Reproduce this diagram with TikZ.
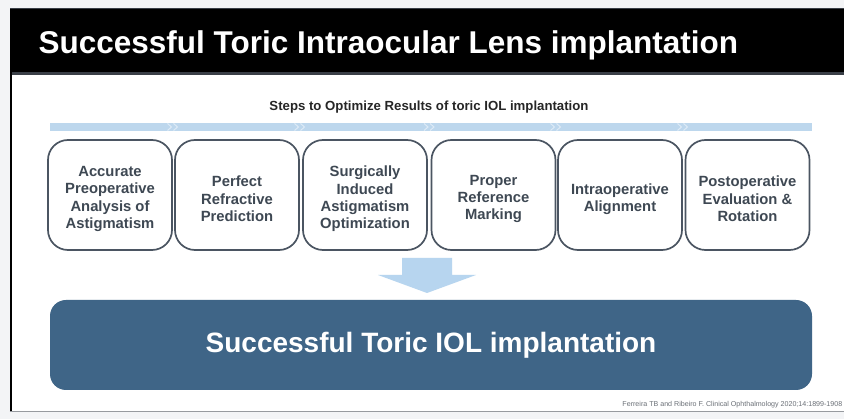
\documentclass[tikz,border=0pt]{standalone}
\usepackage{fontspec}
\setmainfont{Liberation Sans}
\usetikzlibrary{calc}
\definecolor{pagebg}{HTML}{F3F4F6}
\definecolor{stripe}{HTML}{3A3F47}
\definecolor{barblue}{HTML}{BDD7ED}
\definecolor{chevron}{HTML}{DDEAF6}
\definecolor{boxline}{HTML}{4B5562}
\definecolor{boxtext}{HTML}{3E4853}
\definecolor{arrowblue}{HTML}{B7D5EF}
\definecolor{resultblue}{HTML}{3F6587}
\definecolor{citegrey}{HTML}{6A6F76}
\tikzset{
  stepbox/.style={draw=boxline, line width=1.7pt, rounded corners=20pt,
    minimum width=124pt, minimum height=110pt, inner sep=0pt},
  steptext/.style={align=center, text=boxtext, inner sep=0pt,
    font=\bfseries\fontsize{14.8}{17.3}\selectfont},
  resultbox/.style={fill=resultblue, rounded corners=16pt,
    minimum width=762pt, minimum height=90pt,
    text=white, font=\bfseries\fontsize{28}{32}\selectfont},
  chev/.style={draw=chevron, line width=1pt},
}
\begin{document}
\begin{tikzpicture}[x=1pt,y=-1pt]
\useasboundingbox (0,0) rectangle (844,419);
\clip (0,0) rectangle (844,419);
% page, header band and white panel
\fill[pagebg] (0,0) rectangle (844,419);
\fill[white] (10,74) rectangle (844,411);
\fill[black] (10,8) rectangle (844,72);
\draw[stripe, line width=1pt] (10,8.5) -- (844,8.5);
\draw[stripe, line width=2.5pt] (10,73.5) -- (844,73.5);
\fill[black] (9.5,72) rectangle (12,411);
\draw[citegrey!70, line width=1.5pt] (9.5,411.5) -- (844,411.5);
\node[text=white, font=\bfseries\fontsize{31.5}{36}\selectfont, anchor=west]
  (heading) at (35,45) {Successful Toric Intraocular Lens implantation};
% steps title and progress bar
\node[font=\bfseries\fontsize{13.2}{15}\selectfont, text=black!85] (steps) at (429,107)
  {Steps to Optimize Results of toric IOL implantation};
\fill[barblue] (50,123) rectangle (812,131);
\foreach \cx in {173.5,300.5,430,556.5,683.5} {
  \draw[chev] (\cx-6,123.5) -- (\cx-2,127) -- (\cx-6,130.5);
  \draw[chev] (\cx,123.5) -- (\cx+4,127) -- (\cx,130.5);
}
% step boxes
\node[stepbox] (s1) at (110,195) {};
\node[stepbox] (s2) at (237,195) {};
\node[stepbox] (s3) at (365,195) {};
\node[stepbox] (s4) at (493.5,195) {};
\node[stepbox] (s5) at (620,195) {};
\node[stepbox] (s6) at (747.5,195) {};
\node[steptext] (t1) at ([yshift=-4pt]s1.center) {Accurate\\Preoperative\\Analysis of\\Astigmatism};
\node[steptext] (t2) at ([yshift=-4pt]s2.center) {Perfect\\Refractive\\Prediction};
\node[steptext] (t3) at ([yshift=-4pt]s3.center) {Surgically\\Induced\\Astigmatism\\Optimization};
\node[steptext] (t4) at ([yshift=-4pt]s4.center) {Proper\\Reference\\Marking};
\node[steptext] (t5) at ([yshift=-4pt]s5.center) {Intraoperative\\Alignment};
\node[steptext] (t6) at ([yshift=-4pt]s6.center) {Postoperative\\Evaluation \&\\Rotation};
% outcome
\node[resultbox] (result) at (431,345) {Successful Toric IOL implantation};
\fill[arrowblue] (402,258) -- (452,258) -- (452,275) -- (476,275)
  -- (427,293) -- (378,275) -- (402,275) -- cycle;
% reference
\node[anchor=east, text=citegrey, font=\fontsize{7.1}{8}\selectfont, inner sep=0pt]
  (cite) at (842.5,405) {Ferreira TB and Ribeiro F. Clinical Ophthalmology 2020;14:1899-1908};
\end{tikzpicture}
\end{document}
